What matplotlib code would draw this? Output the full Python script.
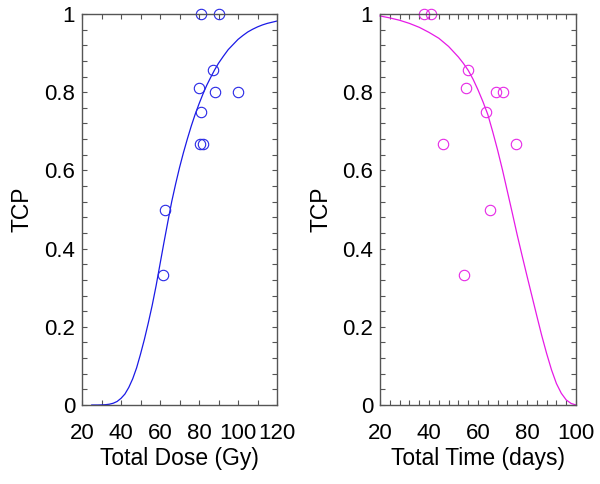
import matplotlib
matplotlib.use("Agg")
import matplotlib.pyplot as plt
from matplotlib.ticker import MultipleLocator

plt.rcParams['font.family'] = ['Liberation Sans', 'DejaVu Sans']

# Left panel: TCP vs total dose
dose_pts = [81, 90, 87, 80, 88, 100, 81.2, 80.5, 82.2, 62.6, 61.4]
dose_tcp = [1.0, 1.0, 0.858, 0.81, 0.80, 0.80, 0.749, 0.667, 0.667, 0.5, 0.333]
dose_curve_x = [25, 28, 30, 32, 34, 36, 38, 40, 42, 44, 46, 48, 50, 52, 54, 56, 58, 60, 62, 64,
                66, 68, 70, 72, 74, 76, 78, 80, 82, 84, 86, 88, 90, 92.5, 95, 97.5, 100, 102.5,
                105, 107.5, 110, 112.5, 115, 117.5, 120]
dose_curve_y = [0.0, 0.0, 0.0003, 0.0008, 0.002, 0.0045, 0.009, 0.017, 0.028, 0.045, 0.067,
                0.095, 0.13, 0.168, 0.21, 0.255, 0.305, 0.36, 0.415, 0.468, 0.52, 0.565,
                0.607, 0.645, 0.68, 0.713, 0.743, 0.77, 0.795, 0.818, 0.838, 0.857, 0.874,
                0.892, 0.909, 0.922, 0.935, 0.945, 0.954, 0.961, 0.967, 0.972, 0.976, 0.979,
                0.982]

# Right panel: TCP vs total time
time_pts = [38, 40.8, 55.9, 55.1, 67.2, 70.3, 63.3, 45.8, 75.6, 64.9, 54.3]
time_tcp = [1.0, 1.0, 0.858, 0.81, 0.80, 0.80, 0.749, 0.667, 0.667, 0.5, 0.333]
time_curve_x = [20, 24, 28, 32, 36, 40, 44, 48, 52, 54, 56, 58, 60, 62, 64, 66, 68, 70, 72, 74,
                76, 78, 80, 82, 84, 86, 88, 90, 92, 94, 96, 98, 100]
time_curve_y = [0.995, 0.99, 0.984, 0.976, 0.966, 0.953, 0.938, 0.917, 0.89, 0.874, 0.856,
                0.833, 0.806, 0.776, 0.743, 0.699, 0.652, 0.601, 0.546, 0.491, 0.435, 0.382,
                0.33, 0.279, 0.228, 0.178, 0.132, 0.09, 0.055, 0.03, 0.013, 0.004, 0.0]

y_ticks = [0, 0.2, 0.4, 0.6, 0.8, 1.0]
y_labels = ['0', '0.2', '0.4', '0.6', '0.8', '1']

fig = plt.figure(figsize=(6.0, 4.84), dpi=100)
ax1 = fig.add_axes([82/600, 79/484, 195/600, 391/484])
ax2 = fig.add_axes([380/600, 79/484, 196/600, 391/484])

spine_col = '#555555'

def style(ax, xmin, xmax, xmajor, xminor, xlabel, ylabelpad):
    ax.set_xlim(xmin, xmax)
    ax.set_ylim(0, 1)
    ax.xaxis.set_major_locator(MultipleLocator(xmajor))
    ax.xaxis.set_minor_locator(MultipleLocator(xminor))
    ax.set_yticks(y_ticks)
    ax.set_yticklabels(y_labels)
    ax.yaxis.set_minor_locator(MultipleLocator(0.04))
    ax.tick_params(which='both', direction='in', top=True, right=True,
                   color=spine_col, width=0.8, labelsize=16, length=3.5)
    ax.tick_params(axis='y', pad=5)
    ax.tick_params(axis='x', pad=13)
    for s in ax.spines.values():
        s.set_color(spine_col)
        s.set_linewidth(1.0)
    ax.set_xlabel(xlabel, fontsize=16.5, labelpad=2)
    ax.set_ylabel('TCP', fontsize=16.5, labelpad=ylabelpad)

ax1.plot(dose_curve_x, dose_curve_y, color='#1a1ae6', lw=0.9, clip_on=False)
ax1.plot(dose_pts, dose_tcp, 'o', mfc='none', mec='#2828e6', ms=7.5, mew=0.8,
         linestyle='none', clip_on=False)
style(ax1, 20, 120, 20, 10, 'Total Dose (Gy)', 8)

ax2.plot(time_curve_x, time_curve_y, color='#e61ae6', lw=0.9, clip_on=False)
ax2.plot(time_pts, time_tcp, 'o', mfc='none', mec='#e628e6', ms=7.5, mew=0.8,
         linestyle='none', clip_on=False)
style(ax2, 20, 100, 20, 4, 'Total Time (days)', 7)

fig.savefig('out.png', dpi=100)
